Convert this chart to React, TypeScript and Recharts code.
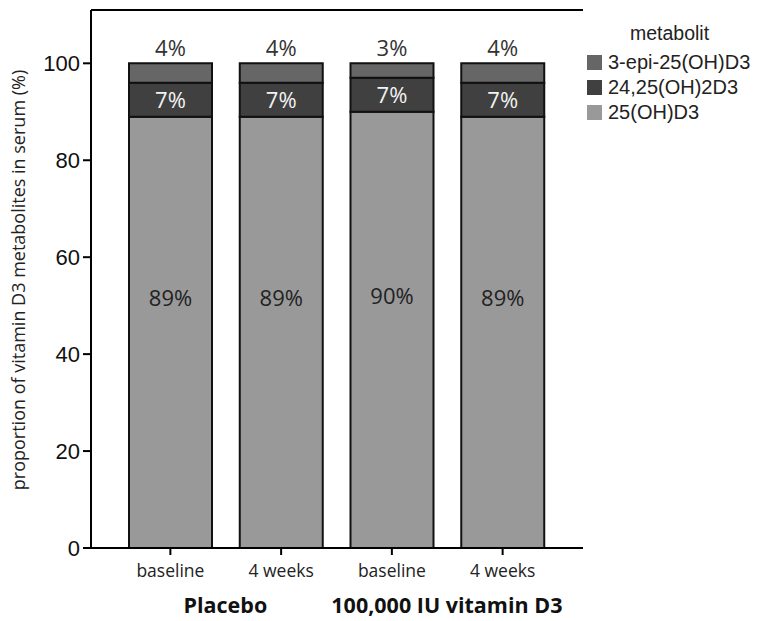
import React from "react";
import { BarChart, Bar, XAxis, YAxis, LabelList, ReferenceLine, Label } from "recharts";

const categories = ["baseline", "4 weeks", "baseline", "4 weeks"];
const groups = ["Placebo", "", "100,000 IU vitamin D3", ""];
const ohD3 = [89, 89, 90, 89];
const dihydroxy = [7, 7, 7, 7];
const epi = [4, 4, 3, 4];
const yTicks = [0, 20, 40, 60, 80, 100];
const legendTitle = "metabolit";

const data = categories.map((c, i) => ({
  cat: c,
  group: groups[i],
  ohD3: ohD3[i],
  dihydroxy: dihydroxy[i],
  epi: epi[i],
}));

const SANS = "'Open Sans', 'DejaVu Sans', sans-serif";
const ARIAL = "'Liberation Sans', Arial, sans-serif";

const XTick = (props: any) => {
  const { x, y, payload, index } = props;
  const g = groups[index];
  return (
    <g>
      <text x={x} y={y + 20} textAnchor="middle" fontFamily={SANS} fontSize={17.5} fill="#222">
        {payload.value}
      </text>
      {g ? (
        <text x={x + 55} y={y + 56} textAnchor="middle" fontFamily={SANS} fontSize={21.5} fontWeight={700} fill="#111">
          {g}
        </text>
      ) : null}
    </g>
  );
};

const topLabel = (props: any) => {
  const { x, y, width, value } = props;
  return (
    <text x={x + width / 2} y={y - 7} textAnchor="middle" fontFamily={SANS} fontSize={22} fill="#333">
      {value}%
    </text>
  );
};

const midLabel = (props: any) => {
  const { x, y, width, height, value } = props;
  return (
    <text x={x + width / 2} y={y + height / 2 + 8} textAnchor="middle" fontFamily={SANS} fontSize={22} fill="#f2f2f2">
      {value}%
    </text>
  );
};

const baseLabel = (props: any) => {
  const { x, y, width, height, value } = props;
  return (
    <text x={x + width / 2} y={y + height * 0.44} textAnchor="middle" fontFamily={SANS} fontSize={22} fill="#222">
      {value}%
    </text>
  );
};

const YTitle = (props: any) => {
  const { viewBox } = props;
  const cx = 25;
  const cy = viewBox.y + viewBox.height / 2 + 1;
  return (
    <text x={cx} y={cy} transform={`rotate(-90 ${cx} ${cy})`} textAnchor="middle" fontFamily={SANS} fontSize={18} fill="#222">
      proportion of vitamin D3 metabolites in serum (%)
    </text>
  );
};

const legendItems = [
  { name: "3-epi-25(OH)D3", color: "#666666" },
  { name: "24,25(OH)2D3", color: "#404040" },
  { name: "25(OH)D3", color: "#999999" },
];

const LegendBox = () => (
  <div style={{ position: "absolute", left: 580, top: 20, width: 177, height: 110, fontFamily: ARIAL, color: "#222" }}>
    <div style={{ position: "absolute", left: 50, top: 3, fontSize: 19.5, lineHeight: "20px" }}>{legendTitle}</div>
    {legendItems.map((it, i) => (
      <div key={i} style={{ position: "absolute", left: 7, top: 32 + i * 25, display: "flex", alignItems: "center" }}>
        <div style={{ width: 15, height: 15, background: it.color, marginRight: 6 }} />
        <span style={{ fontSize: 20, lineHeight: "20px", whiteSpace: "nowrap" }}>{it.name}</span>
      </div>
    ))}
  </div>
);

export default function App() {
  return (
    <div style={{ position: "absolute", left: 0, top: 0, width: 757, height: 621, background: "#fff" }}>
      <BarChart width={757} height={621} data={data} margin={{ top: 10, right: 174, bottom: 0, left: 0 }} barSize={83}>
        <XAxis
          dataKey="cat"
          height={73}
          padding={{ left: 24, right: 25 }}
          axisLine={{ stroke: "#000", strokeWidth: 2 }}
          tickLine={{ stroke: "#000", strokeWidth: 2 }}
          tickSize={7}
          tickMargin={2}
          tick={<XTick />}
          interval={0}
        />
        <YAxis
          width={91}
          domain={[0, 111]}
          ticks={yTicks}
          allowDataOverflow
          axisLine={{ stroke: "#000", strokeWidth: 2 }}
          tickLine={{ stroke: "#000", strokeWidth: 2 }}
          tickSize={8}
          tickMargin={3}
          tick={{ fontFamily: ARIAL, fontSize: 22, fill: "#111" }}
        >
          <Label content={<YTitle />} />
        </YAxis>
        <YAxis
          yAxisId="right"
          orientation="right"
          width={0}
          domain={[0, 111]}
          tick={false}
          tickLine={false}
          axisLine={{ stroke: "#000", strokeWidth: 2 }}
        />
        <ReferenceLine y={111} stroke="#000" strokeWidth={2} />
        <Bar dataKey="ohD3" name="25(OH)D3" stackId="a" fill="#999999" stroke="#111" strokeWidth={2} isAnimationActive={false}>
          <LabelList dataKey="ohD3" content={baseLabel} />
        </Bar>
        <Bar dataKey="dihydroxy" name="24,25(OH)2D3" stackId="a" fill="#404040" stroke="#111" strokeWidth={2} isAnimationActive={false}>
          <LabelList dataKey="dihydroxy" content={midLabel} />
        </Bar>
        <Bar dataKey="epi" name="3-epi-25(OH)D3" stackId="a" fill="#666666" stroke="#111" strokeWidth={2} isAnimationActive={false}>
          <LabelList dataKey="epi" content={topLabel} />
        </Bar>
      </BarChart>
      <LegendBox />
    </div>
  );
}
